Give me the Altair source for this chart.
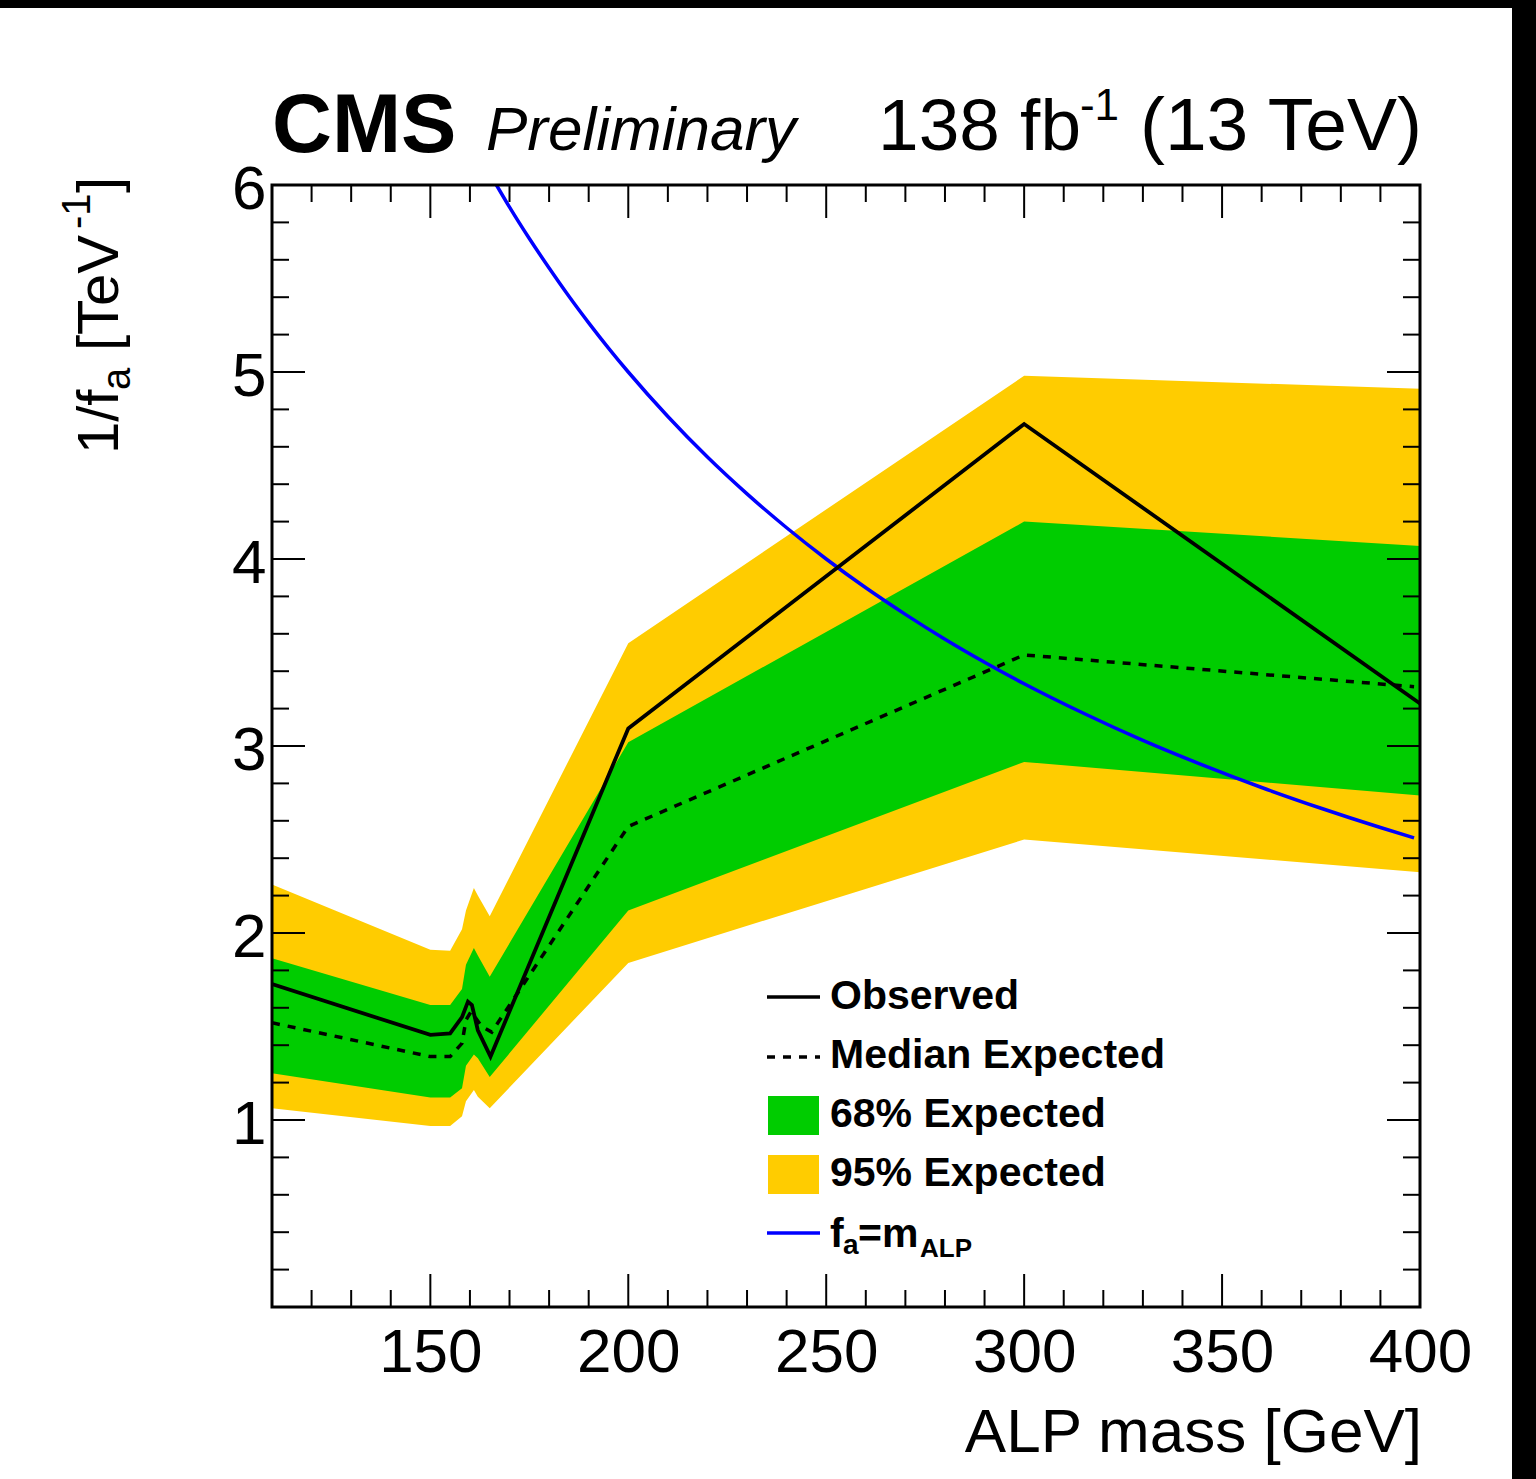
import altair as alt
import pandas as pd

# ---------------- data ----------------
mass_band = [110, 150, 155, 158, 159, 161, 162, 165, 200, 300, 400]
exp95_hi = [2.26, 1.91, 1.905, 2.02, 2.12, 2.24, 2.20, 2.09, 3.55, 4.98, 4.91]
exp68_hi = [1.865, 1.615, 1.615, 1.70, 1.83, 1.92, 1.88, 1.766, 3.02, 4.20, 4.07]
exp68_lo = [1.25, 1.12, 1.12, 1.17, 1.29, 1.35, 1.33, 1.23, 2.12, 2.915, 2.735]
exp95_lo = [1.063, 0.968, 0.968, 1.02, 1.10, 1.16, 1.125, 1.063, 1.84, 2.50, 2.325]

mass_obs = [110, 150, 155, 158, 159.5, 160.5, 162, 165.2, 200, 300, 400]
observed = [1.727, 1.455, 1.463, 1.55, 1.633, 1.615, 1.48, 1.339, 3.094, 4.722, 3.227]

mass_med = [110, 150, 155, 158, 159, 160.3, 163, 165.5, 200, 300, 398.5]
median = [1.52, 1.339, 1.339, 1.41, 1.535, 1.58, 1.50, 1.47, 2.57, 3.487, 3.317]

mass_ref = [166.7, 170, 175, 180, 185, 190, 195, 200, 210, 220, 230, 240, 250, 260,
            270, 280, 290, 300, 315, 330, 345, 360, 375, 390, 398.5]
fa_eq_m = [6.0, 5.882, 5.714, 5.556, 5.405, 5.263, 5.128, 5.0, 4.762, 4.545, 4.348, 4.167,
           4.0, 3.846, 3.704, 3.571, 3.448, 3.333, 3.175, 3.03, 2.899, 2.778, 2.667, 2.564,
           2.509]

x_labels = [150, 200, 250, 300, 350, 400]
y_labels = [1, 2, 3, 4, 5, 6]
x_major_ticks = [150, 200, 250, 300, 350]
x_minor_ticks = [120, 130, 140, 160, 170, 180, 190, 210, 220, 230, 240, 260, 270, 280,
                 290, 310, 320, 330, 340, 360, 370, 380, 390]
y_major_ticks = [1, 2, 3, 4, 5]
y_minor_ticks = [0.2, 0.4, 0.6, 0.8, 1.2, 1.4, 1.6, 1.8, 2.2, 2.4, 2.6, 2.8, 3.2, 3.4,
                 3.6, 3.8, 4.2, 4.4, 4.6, 4.8, 5.2, 5.4, 5.6, 5.8]

# ---------------- layout ----------------
W, H = 1148, 1122
FONT = "Liberation Sans"
YELLOW = "#ffcc00"
GREEN = "#00cc00"

xscale = alt.Scale(domain=[110, 400], nice=False, zero=False)
yscale = alt.Scale(domain=[0, 6], nice=False, zero=False)

x_axis = alt.Axis(values=x_labels, title=None, ticks=False, tickSize=0, domain=False,
                  grid=False, labelFontSize=62, labelFont=FONT, labelColor="black",
                  labelPadding=15, labelFlush=False, labelOverlap=False, format="d")
y_axis = alt.Axis(values=y_labels, title=None, ticks=False, tickSize=0, domain=False,
                  grid=False, labelFontSize=62, labelFont=FONT, labelColor="black",
                  labelPadding=6, labelOffset=4, labelFlush=False, labelOverlap=False,
                  format="d")

X = lambda f: alt.X(f, type="quantitative", scale=xscale, axis=x_axis)
Y = lambda f: alt.Y(f, type="quantitative", scale=yscale, axis=y_axis)

band_df = pd.DataFrame({"m": mass_band, "hi95": exp95_hi, "lo95": exp95_lo,
                        "hi68": exp68_hi, "lo68": exp68_lo})
obs_df = pd.DataFrame({"m": mass_obs, "v": observed})
med_df = pd.DataFrame({"m": mass_med, "v": median})
ref_df = pd.DataFrame({"m": mass_ref, "v": fa_eq_m})

layers = []
layers.append(alt.Chart(band_df).mark_area(color=YELLOW, clip=True, opacity=1).encode(
    x=X("m"), y=Y("lo95"), y2="hi95:Q"))
layers.append(alt.Chart(band_df).mark_area(color=GREEN, clip=True, opacity=1).encode(
    x=X("m"), y=Y("lo68"), y2="hi68:Q"))
layers.append(alt.Chart(ref_df).mark_line(color="#0000ff", strokeWidth=3.5, clip=True,
                                          interpolate="monotone").encode(
    x=X("m"), y=Y("v")))
layers.append(alt.Chart(med_df).mark_line(color="black", strokeWidth=3.5, strokeDash=[8, 8],
                                          clip=True).encode(x=X("m"), y=Y("v")))
layers.append(alt.Chart(obs_df).mark_line(color="black", strokeWidth=3.8, clip=True).encode(
    x=X("m"), y=Y("v")))

# ---------------- inward ticks on all four sides ----------------
def xticks(vals, length):
    df = pd.DataFrame({"t": vals})
    bottom = alt.Chart(df).mark_rule(color="black", strokeWidth=2).encode(
        x=alt.X("t:Q", scale=xscale, axis=x_axis), y=alt.value(H), y2=alt.value(H - length))
    top = alt.Chart(df).mark_rule(color="black", strokeWidth=2).encode(
        x=alt.X("t:Q", scale=xscale, axis=x_axis), y=alt.value(0), y2=alt.value(length))
    return [bottom, top]


def yticks(vals, length):
    df = pd.DataFrame({"t": vals})
    left = alt.Chart(df).mark_rule(color="black", strokeWidth=2).encode(
        y=alt.Y("t:Q", scale=yscale, axis=y_axis), x=alt.value(0), x2=alt.value(length))
    right = alt.Chart(df).mark_rule(color="black", strokeWidth=2).encode(
        y=alt.Y("t:Q", scale=yscale, axis=y_axis), x=alt.value(W), x2=alt.value(W - length))
    return [left, right]


layers += xticks(x_major_ticks, 33) + xticks(x_minor_ticks, 17)
layers += yticks(y_major_ticks, 33) + yticks(y_minor_ticks, 17)

# frame
one = pd.DataFrame({"a": [0]})
layers.append(alt.Chart(one).mark_rect(fill=None, stroke="black", strokeWidth=3).encode(
    x=alt.value(0), x2=alt.value(W), y=alt.value(0), y2=alt.value(H)))


def text(t, x, y, size, weight="normal", style="normal", align="left", angle=0):
    kw = dict(align=align, baseline="alphabetic", font=FONT, fontSize=size,
              fontWeight=weight, fontStyle=style, color="black")
    if angle:
        kw["angle"] = angle
    return alt.Chart(pd.DataFrame({"t": [t]})).mark_text(**kw).encode(
        x=alt.value(x), y=alt.value(y), text="t:N")


# ---------------- legend ----------------
layers.append(alt.Chart(one).mark_rule(color="black", strokeWidth=3.5).encode(
    x=alt.value(495), x2=alt.value(548), y=alt.value(812)))
layers.append(alt.Chart(one).mark_rule(color="black", strokeWidth=3.5, strokeDash=[8, 8]).encode(
    x=alt.value(495), x2=alt.value(548), y=alt.value(872)))
layers.append(alt.Chart(one).mark_rect(color=GREEN).encode(
    x=alt.value(496), x2=alt.value(547), y=alt.value(911), y2=alt.value(950)))
layers.append(alt.Chart(one).mark_rect(color=YELLOW).encode(
    x=alt.value(496), x2=alt.value(547), y=alt.value(970), y2=alt.value(1009)))
layers.append(alt.Chart(one).mark_rule(color="#0000ff", strokeWidth=3.5).encode(
    x=alt.value(495), x2=alt.value(548), y=alt.value(1048)))

layers.append(text("Observed", 558, 824, 41, weight="bold"))
layers.append(text("Median Expected", 558, 883, 41, weight="bold"))
layers.append(text("68% Expected", 558, 942, 41, weight="bold"))
layers.append(text("95% Expected", 558, 1001, 41, weight="bold"))
layers.append(text("f", 558, 1062, 41, weight="bold"))
layers.append(text("a", 571, 1069, 28, weight="bold"))
layers.append(text("=m", 586, 1062, 41, weight="bold"))
layers.append(text("ALP", 648, 1072, 26, weight="bold"))

# ---------------- header ----------------
layers.append(text("CMS", 0, -33, 83, weight="bold"))
layers.append(text("Preliminary", 214, -35, 62, style="italic"))
layers.append(text("(13 TeV)", 1150, -35, 75, align="right"))
layers.append(text("-1", 847, -65, 44, align="right"))
layers.append(text("138 fb", 809, -35, 73, align="right"))

# ---------------- axis titles ----------------
layers.append(text("ALP mass [GeV]", 1150, 1267, 62, align="right"))
layers.append(text("1/f", -154, 269, 58, angle=270))
layers.append(text("a", -142, 205, 40, angle=270))
layers.append(text("[TeV", -154, 166, 58, angle=270))
layers.append(text("-1", -182, 44, 40, angle=270))
layers.append(text("]", -154, 8, 58, angle=270))

# ---------------- black border strips of the picture ----------------
layers.append(alt.Chart(one).mark_rect(color="black").encode(
    x=alt.value(-272), x2=alt.value(1264), y=alt.value(-185), y2=alt.value(-177)))
layers.append(alt.Chart(one).mark_rect(color="black").encode(
    x=alt.value(1240), x2=alt.value(1264), y=alt.value(-185), y2=alt.value(1294)))

chart = alt.layer(*layers).properties(
    width=W, height=H,
    padding={"left": 272, "top": 185, "right": 116, "bottom": 172},
    autosize=alt.AutoSizeParams(type="none"),
    background="white",
).configure_view(stroke=None)

chart.save("out.html", embed_options={"renderer": "svg", "actions": False})
